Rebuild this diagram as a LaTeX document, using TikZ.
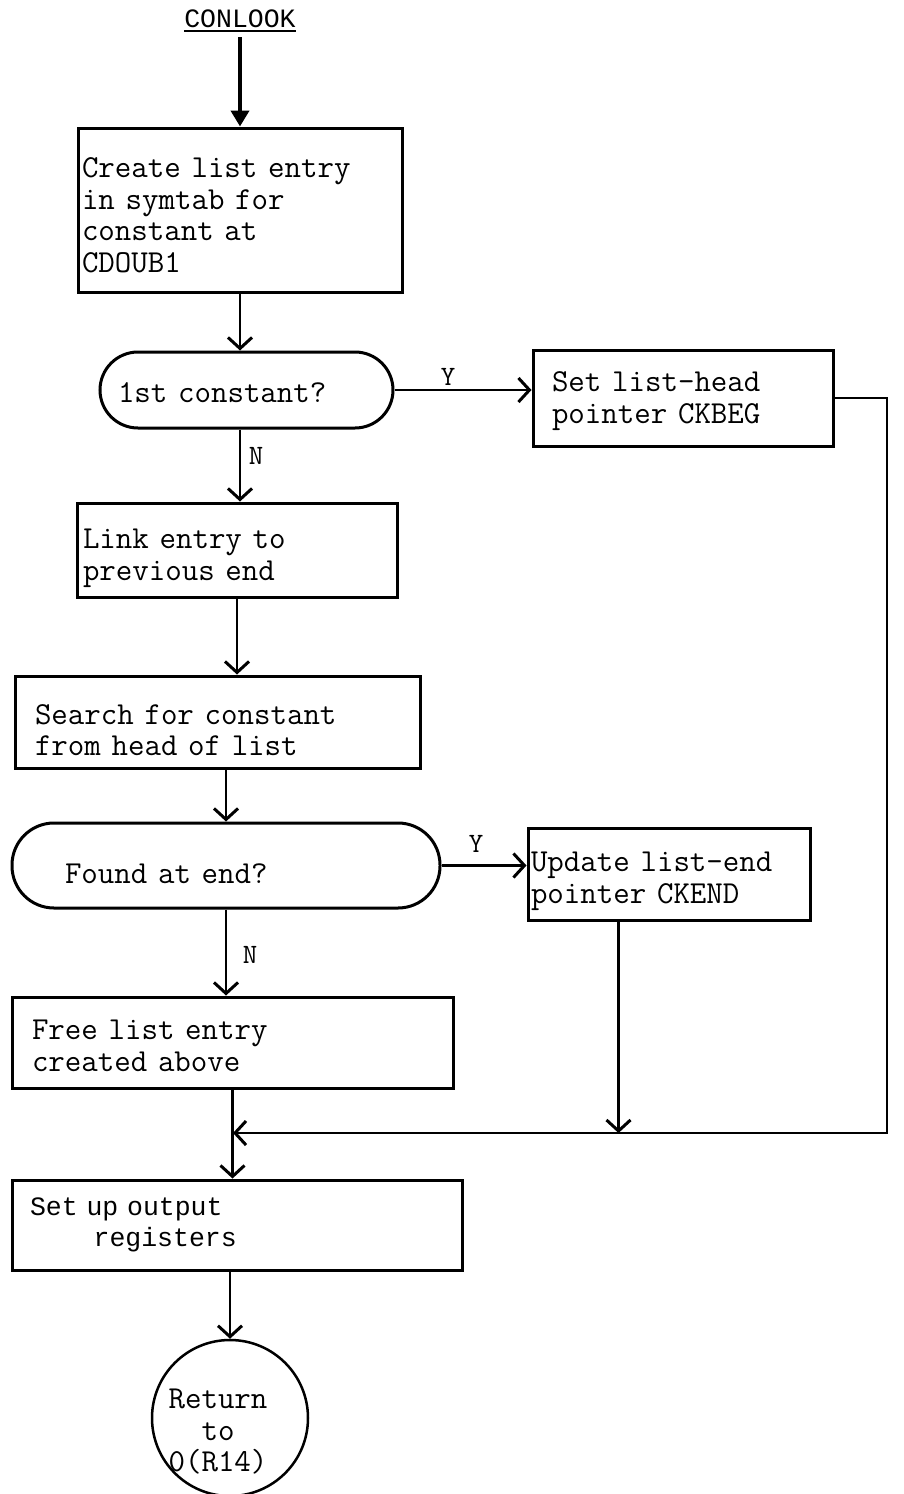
\documentclass[tikz,border=0pt]{standalone}
\usepackage{fontspec}
\newfontfamily\typer{Liberation Mono}
\usetikzlibrary{arrows.meta,calc}

% typewriter text with a full-width space
\newcommand\twfont{\ttfamily\fontsize{32}{31.5}\selectfont\spaceskip=\fontcharwd\font`\x\relax}

\tikzset{
  txt/.style={font=\twfont},
  sink/.style={execute at begin node={\rule{0pt}{\dimexpr 24pt+#1*2\relax}}},
  proc/.style={txt, draw, line width=3pt, rectangle, align=left, inner ysep=0pt},
  decision/.style={txt, draw, line width=3pt, rectangle, rounded corners=#1, align=left, inner ysep=0pt},
  terminal/.style={draw, circle, line width=2.5pt, inner sep=0pt},
  flow/.style={line width=2.5pt, -{Straight Barb[length=11pt,width=24pt,line width=3pt]}},
  link/.style={line width=2.5pt},
  lbl/.style={font=\ttfamily\fontsize{28}{28}\selectfont, inner sep=0pt}
}

\begin{document}
\begin{tikzpicture}[x=1pt,y=-1pt]
  \useasboundingbox (0,0) rectangle (903,1494);

  % entry label
  \node[font=\typer\fontsize{26.5}{26.5}\selectfont, inner sep=0pt, anchor=base] (title) at (240,27) {CONLOOK};
  \draw[line width=1.5pt] ([yshift=-4pt]title.base west) -- ([yshift=-4pt]title.base east);

  % process boxes
  \node[proc, sink=3pt, inner xsep=4pt, text width=316pt, minimum height=164pt] (create) at (240,210)
    {Create list entry\\in symtab for\\constant at\\CDOUB1};
  \node[decision=38pt, sink=1pt, inner xsep=18pt, text width=257pt, minimum height=76pt] (first) at (246.5,390)
    {1st constant?};
  \node[proc, sink=1pt, inner xsep=19pt, text width=262pt, minimum height=96pt] (head) at (683,398)
    {Set list-head\\pointer CKBEG};
  \node[proc, sink=6pt, inner xsep=6pt, text width=308pt, minimum height=94pt] (link) at (237,550)
    {Link entry to\\previous end};
  \node[proc, sink=6pt, inner xsep=20pt, text width=365pt, minimum height=92pt] (search) at (217.5,722)
    {Search for constant\\from head of list};
  \node[decision=42pt, sink=6pt, inner xsep=53pt, text width=322pt, minimum height=85pt] (found) at (226,865.5)
    {Found at end?};
  \node[proc, sink=5pt, inner xsep=3pt, text width=276pt, minimum height=92pt] (tail) at (669,874)
    {Update list-end\\pointer CKEND};
  \node[proc, sink=1pt, inner xsep=20pt, text width=401pt, minimum height=91pt] (free) at (232.5,1042.5)
    {Free list entry\\created above};
  \node[proc, font=\typer\fontsize{26.5}{31}\selectfont, inner xsep=18pt, text width=414pt, minimum height=90pt] (regs) at (237,1225)
    {Set up output\\\phantom{xxxx}registers};

  % return terminal
  \node[terminal, minimum size=156pt] (ret) at (230,1418) {};
  \node[txt, align=center, inner sep=0pt] (rettext) at (218,1432) {Return\\to\\0(R14)};

  % junction points
  \coordinate (joinR) at (887,1133);
  \coordinate (merge) at (233,1133);
  \coordinate (tailout) at ([xshift=92pt]tail.south west);

  % connectors
  \draw[line width=4pt, -{Triangle[length=16pt,width=18pt]}] ([yshift=-10pt]title.base) -- (create.north);
  \draw[flow] (create.south) -- (create.south |- first.north);
  \draw[flow] (first.east) -- (first.east -| head.west);
  \draw[link] (head.east) -- (head.east -| joinR) -- (joinR) -- (merge);
  \draw[flow] (joinR) -- (merge);
  \draw[flow] (first.south -| create.south) -- (create.south |- link.north);
  \draw[flow] (link.south) -- (link.south |- search.north);
  \draw[flow] (found.north |- search.south) -- (found.north);
  \draw[flow] (found.east) -- (found.east -| tail.west);
  \draw[flow] (found.south) -- (found.south |- free.north);
  \draw[flow] (tailout) -- (tailout |- merge);
  \draw[flow] (free.south) -- (free.south |- regs.north);
  \draw[flow] (regs.south -| ret.north) -- (ret.north);

  % branch labels
  \node[lbl] (y1) at (448,377) {Y};
  \node[lbl] (n1) at (256,456) {N};
  \node[lbl] (y2) at (476,844) {Y};
  \node[lbl] (n2) at (250,955) {N};
\end{tikzpicture}
\end{document}
